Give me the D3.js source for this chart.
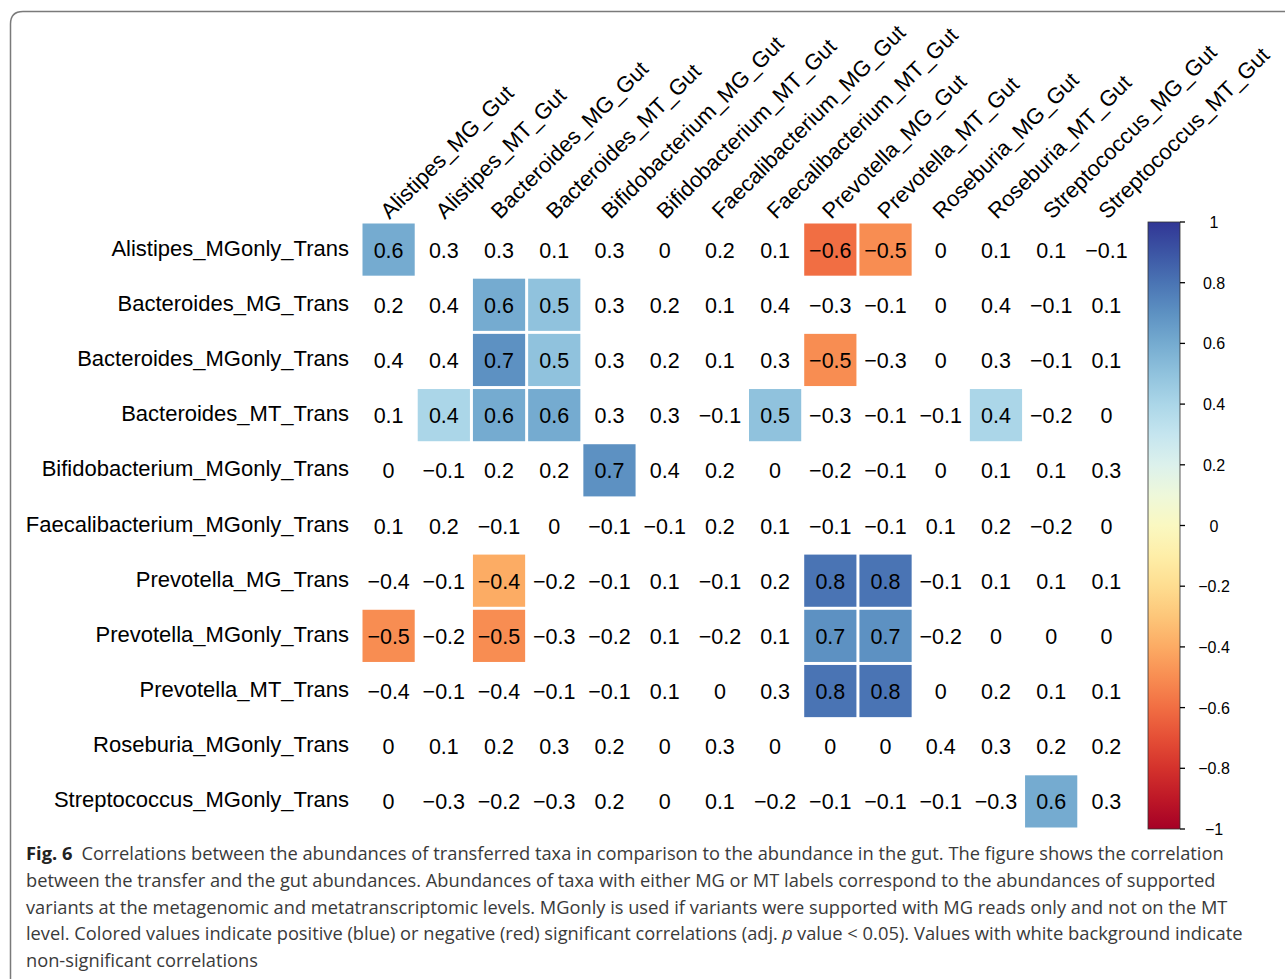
<!DOCTYPE html>
<html>
<head>
<meta charset="utf-8">
<script src="https://cdn.jsdelivr.net/npm/d3@7"></script>
<style>
  body { margin: 0; background: #fff; }
  svg { display: block; }
</style>
</head>
<body>
<div id="chart"></div>
<script>
// Column (gut) and row (transfer) labels
var gutTaxa = [
    "Alistipes_MG_Gut", "Alistipes_MT_Gut", "Bacteroides_MG_Gut", "Bacteroides_MT_Gut",
    "Bifidobacterium_MG_Gut", "Bifidobacterium_MT_Gut", "Faecalibacterium_MG_Gut",
    "Faecalibacterium_MT_Gut", "Prevotella_MG_Gut", "Prevotella_MT_Gut",
    "Roseburia_MG_Gut", "Roseburia_MT_Gut", "Streptococcus_MG_Gut", "Streptococcus_MT_Gut"
];

var transTaxa = [
    "Alistipes_MGonly_Trans", "Bacteroides_MG_Trans", "Bacteroides_MGonly_Trans",
    "Bacteroides_MT_Trans", "Bifidobacterium_MGonly_Trans", "Faecalibacterium_MGonly_Trans",
    "Prevotella_MG_Trans", "Prevotella_MGonly_Trans", "Prevotella_MT_Trans",
    "Roseburia_MGonly_Trans", "Streptococcus_MGonly_Trans"
];

// Correlation values, one row per transfer taxon
var corrValues = [
    [0.6, 0.3, 0.3, 0.1, 0.3, 0, 0.2, 0.1, -0.6, -0.5, 0, 0.1, 0.1, -0.1],
    [0.2, 0.4, 0.6, 0.5, 0.3, 0.2, 0.1, 0.4, -0.3, -0.1, 0, 0.4, -0.1, 0.1],
    [0.4, 0.4, 0.7, 0.5, 0.3, 0.2, 0.1, 0.3, -0.5, -0.3, 0, 0.3, -0.1, 0.1],
    [0.1, 0.4, 0.6, 0.6, 0.3, 0.3, -0.1, 0.5, -0.3, -0.1, -0.1, 0.4, -0.2, 0],
    [0, -0.1, 0.2, 0.2, 0.7, 0.4, 0.2, 0, -0.2, -0.1, 0, 0.1, 0.1, 0.3],
    [0.1, 0.2, -0.1, 0, -0.1, -0.1, 0.2, 0.1, -0.1, -0.1, 0.1, 0.2, -0.2, 0],
    [-0.4, -0.1, -0.4, -0.2, -0.1, 0.1, -0.1, 0.2, 0.8, 0.8, -0.1, 0.1, 0.1, 0.1],
    [-0.5, -0.2, -0.5, -0.3, -0.2, 0.1, -0.2, 0.1, 0.7, 0.7, -0.2, 0, 0, 0],
    [-0.4, -0.1, -0.4, -0.1, -0.1, 0.1, 0, 0.3, 0.8, 0.8, 0, 0.2, 0.1, 0.1],
    [0, 0.1, 0.2, 0.3, 0.2, 0, 0.3, 0, 0, 0, 0.4, 0.3, 0.2, 0.2],
    [0, -0.3, -0.2, -0.3, 0.2, 0, 0.1, -0.2, -0.1, -0.1, -0.1, -0.3, 0.6, 0.3]
];

// Significant cells (adj. p < 0.05) as column indices per row
var significant = [
    [0, 8, 9],
    [2, 3],
    [2, 3, 8],
    [1, 2, 3, 7, 11],
    [4],
    [],
    [2, 8, 9],
    [0, 2, 8, 9],
    [8, 9],
    [],
    [12]
];

var legendTicks = [1, 0.8, 0.6, 0.4, 0.2, 0, -0.2, -0.4, -0.6, -0.8, -1];

var captionLines = [
    "Correlations between the abundances of transferred taxa in comparison to the abundance in the gut. The figure shows the correlation",
    "between the transfer and the gut abundances. Abundances of taxa with either MG or MT labels correspond to the abundances of supported",
    "variants at the metagenomic and metatranscriptomic levels. MGonly is used if variants were supported with MG reads only and not on the MT",
    "level. Colored values indicate positive (blue) or negative (red) significant correlations (adj.",
    "non-significant correlations"
];

var width = 1285, height = 979;
var chartFont = "'Liberation Sans', Arial, sans-serif";
var captionFont = "'Open Sans', 'Noto Sans', sans-serif";
var labelSize = 22;

var svg = d3.select("#chart").append("svg")
    .attr("width", width)
    .attr("height", height);

// Rounded frame around the figure (runs off the right and bottom edges)
svg.append("path")
    .attr("d", "M10.5,1000 L10.5,24 Q10.5,11.5 23,11.5 L1300,11.5")
    .attr("fill", "none")
    .attr("stroke", "#7a7a7a")
    .attr("stroke-width", 1.5);

var x = d3.scaleBand().domain(d3.range(gutTaxa.length)).range([361, 1134]);
var y = d3.scaleBand().domain(d3.range(transTaxa.length)).range([222, 829]);
var color = d3.scaleSequential(t => d3.interpolateRdYlBu(t)).domain([-1, 1]);
var fmt = d3.format("");

var cells = [];
corrValues.forEach(function(row, i) {
    row.forEach(function(v, j) {
        cells.push({ row: i, col: j, value: v, sig: significant[i].indexOf(j) >= 0 });
    });
});

var gap = 1.5;
svg.append("g").selectAll("rect")
    .data(cells.filter(d => d.sig))
    .enter().append("rect")
    .attr("x", d => x(d.col) + gap)
    .attr("y", d => y(d.row) + gap)
    .attr("width", x.bandwidth() - 2 * gap)
    .attr("height", y.bandwidth() - 2 * gap)
    .attr("fill", d => color(d.value));

svg.append("g").selectAll("text")
    .data(cells)
    .enter().append("text")
    .attr("x", d => x(d.col) + x.bandwidth() / 2)
    .attr("y", d => y(d.row) + y.bandwidth() / 2 + 8)
    .attr("text-anchor", "middle")
    .attr("font-family", chartFont)
    .attr("font-size", 21.5)
    .attr("fill", "#000")
    .text(d => fmt(d.value));

// Row labels
svg.append("g").selectAll("text")
    .data(transTaxa)
    .enter().append("text")
    .attr("x", 349)
    .attr("y", (d, i) => y(i) + y.bandwidth() / 2 + 6)
    .attr("text-anchor", "end")
    .attr("font-family", chartFont)
    .attr("font-size", labelSize)
    .text(d => d);

// Column labels, rotated 45 degrees
svg.append("g").selectAll("text")
    .data(gutTaxa)
    .enter().append("text")
    .attr("transform", (d, i) => "translate(" + (x(i) + x.bandwidth() / 2 + 1) + ",220) rotate(-45)")
    .attr("font-family", chartFont)
    .attr("font-size", labelSize)
    .text(d => d);

// Colour bar legend
var legY = d3.scaleLinear().domain([1, -1]).range([222, 829]);
var defs = svg.append("defs");
var grad = defs.append("linearGradient")
    .attr("id", "corrGrad")
    .attr("x1", 0).attr("y1", 0).attr("x2", 0).attr("y2", 1);
d3.range(0, 1.0001, 0.05).forEach(function(t) {
    grad.append("stop")
        .attr("offset", t)
        .attr("stop-color", color(1 - 2 * t));
});

svg.append("rect")
    .attr("x", 1148)
    .attr("y", legY(1))
    .attr("width", 32)
    .attr("height", legY(-1) - legY(1))
    .attr("fill", "url(#corrGrad)")
    .attr("stroke", "#333")
    .attr("stroke-width", 0.8);

var legTick = svg.append("g").selectAll("g")
    .data(legendTicks)
    .enter().append("g");
legTick.append("line")
    .attr("x1", 1180).attr("x2", 1185)
    .attr("y1", d => legY(d)).attr("y2", d => legY(d))
    .attr("stroke", "#000")
    .attr("stroke-width", 1.3);
legTick.append("text")
    .attr("x", 1214)
    .attr("y", d => legY(d) + 6)
    .attr("text-anchor", "middle")
    .attr("font-family", chartFont)
    .attr("font-size", 16)
    .text(d => fmt(d));

// Caption: each piece is sized so its natural width fills the target span
var capBase = 18.5;
var capG = svg.append("g")
    .attr("font-family", captionFont)
    .attr("font-size", capBase)
    .attr("fill", "#3a3a3a");
var capY = [860, 887, 914, 940, 967];

function fitText(sel, target) {
    var len = sel.node().getComputedTextLength();
    sel.attr("font-size", capBase * target / len);
    return sel;
}

var line0 = capG.append("text").attr("x", 26).attr("y", capY[0]);
line0.append("tspan").attr("font-weight", "bold").attr("fill", "#222").text("Fig. 6");
line0.append("tspan").text("\u2002" + captionLines[0]);
fitText(line0, 1224 - 26);

fitText(capG.append("text").attr("x", 26).attr("y", capY[1]).text(captionLines[1]), 1216 - 26);
fitText(capG.append("text").attr("x", 26).attr("y", capY[2]).text(captionLines[2]), 1228 - 26);

// line 4 split in pieces so the italic p sits in its own text
fitText(capG.append("text").attr("x", 26).attr("y", capY[3]).text(captionLines[3]), 778 - 26);
capG.append("text")
    .attr("x", 782).attr("y", capY[3])
    .attr("font-style", "italic")
    .text("p");
fitText(capG.append("text").attr("x", 797).attr("y", capY[3])
    .text("value < 0.05). Values with white background indicate"), 1243 - 797);

fitText(capG.append("text").attr("x", 26).attr("y", capY[4]).text(captionLines[4]), 258 - 26);
</script>
</body>
</html>
